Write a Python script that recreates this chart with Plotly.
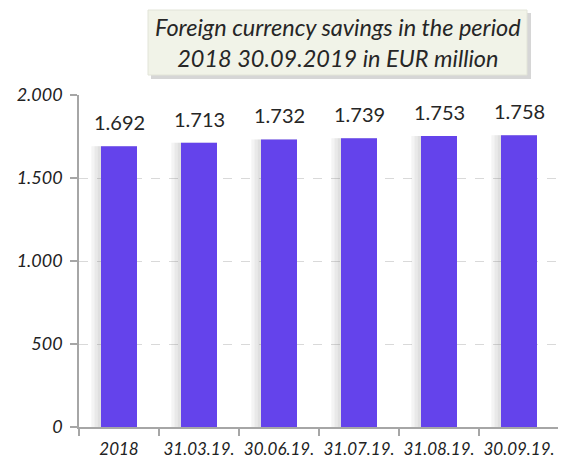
import plotly.graph_objects as go

categories = ["2018", "31.03.19.", "30.06.19.", "31.07.19.", "31.08.19.", "30.09.19."]
values = [1692, 1713, 1732, 1739, 1753, 1758]
value_labels = ["1.692", "1.713", "1.732", "1.739", "1.753", "1.758"]
y_tickvals = [0, 500, 1000, 1500, 2000]
y_ticktext = ["0", "500", "1.000", "1.500", "2.000"]
title_text = "Foreign currency savings in the period<br>2018 30.09.2019 in EUR million"

# page body has an 8px margin; figure is sized to fill the rest of the window
OFF = 8
W, H = 566 - OFF, 458 - OFF
FONT = "Lato, 'Open Sans', sans-serif"


def px(x):
    return (x - OFF) / W


def py(y):
    return 1 - (y - OFF) / H


fig = go.Figure()

# soft shadow to the left of bars
for k in range(1, 4):
    fig.add_trace(go.Bar(
        x=categories, y=values,
        marker=dict(color="rgba(110,110,110,0.08)", line=dict(width=0)),
        width=0.45 + 0.04 * k, offset=-0.225 - 0.04 * k,
        hoverinfo="skip", showlegend=False,
    ))

fig.add_trace(go.Bar(
    x=categories, y=values, marker=dict(color="#6443EB", line=dict(width=0)),
    width=0.45, offset=-0.225, showlegend=False,
))

# value labels (category index positions on the category axis)
for i, (v, t) in enumerate(zip(values, value_labels)):
    fig.add_annotation(x=i, y=v, text=t, showarrow=False, yanchor="middle",
                       yshift=24, font=dict(family=FONT, size=20, color="#262626"))

fig.update_layout(
    width=W, height=H,
    margin=dict(l=0, r=0, t=0, b=0),
    paper_bgcolor="white", plot_bgcolor="white",
    barmode="overlay",
    xaxis=dict(
        type="category", categoryorder="array", categoryarray=categories,
        range=[-0.5, len(categories) - 0.5],
        domain=[px(79), px(559)], automargin=False,
        showline=True, linecolor="#a6a6a6", linewidth=1.5,
        ticks="outside", ticklen=7, tickcolor="#a6a6a6", tickwidth=1.5,
        tickson="boundaries", tickangle=0, ticklabelstandoff=6,
        tickfont=dict(family=FONT, size=17, color="#222222", style="italic"),
        showgrid=False,
    ),
    yaxis=dict(
        domain=[1 - (427 - OFF) / H, py(95)], automargin=False,
        range=[0, 2000], tickvals=y_tickvals, ticktext=y_ticktext,
        showline=True, linecolor="#a6a6a6", linewidth=1.5,
        ticks="outside", ticklen=7, tickcolor="#a6a6a6", tickwidth=1.5,
        ticklabelstandoff=4,
        tickfont=dict(family=FONT, size=18, color="#222222", style="italic"),
        showgrid=True, gridcolor="#d9d9d9", griddash="dash", gridwidth=1,
        zeroline=False,
    ),
    font=dict(family=FONT),
)

# title box with shadow
fig.add_shape(type="rect", xref="paper", yref="paper",
              x0=px(151), x1=px(531), y0=py(79), y1=py(13),
              fillcolor="rgba(0,0,0,0.16)", line=dict(width=0), layer="above")
fig.add_shape(type="rect", xref="paper", yref="paper",
              x0=px(148), x1=px(527), y0=py(75), y1=py(10),
              fillcolor="#f1f3e8", line=dict(color="#e2e4d8", width=1), layer="above")
fig.add_annotation(
    xref="paper", yref="paper", x=px(337.5), y=py(42),
    text=title_text, showarrow=False, xanchor="center", yanchor="middle",
    font=dict(family=FONT, size=23.5, color="#262626", style="italic"),
    align="center",
)

fig.write_html("out.html")
